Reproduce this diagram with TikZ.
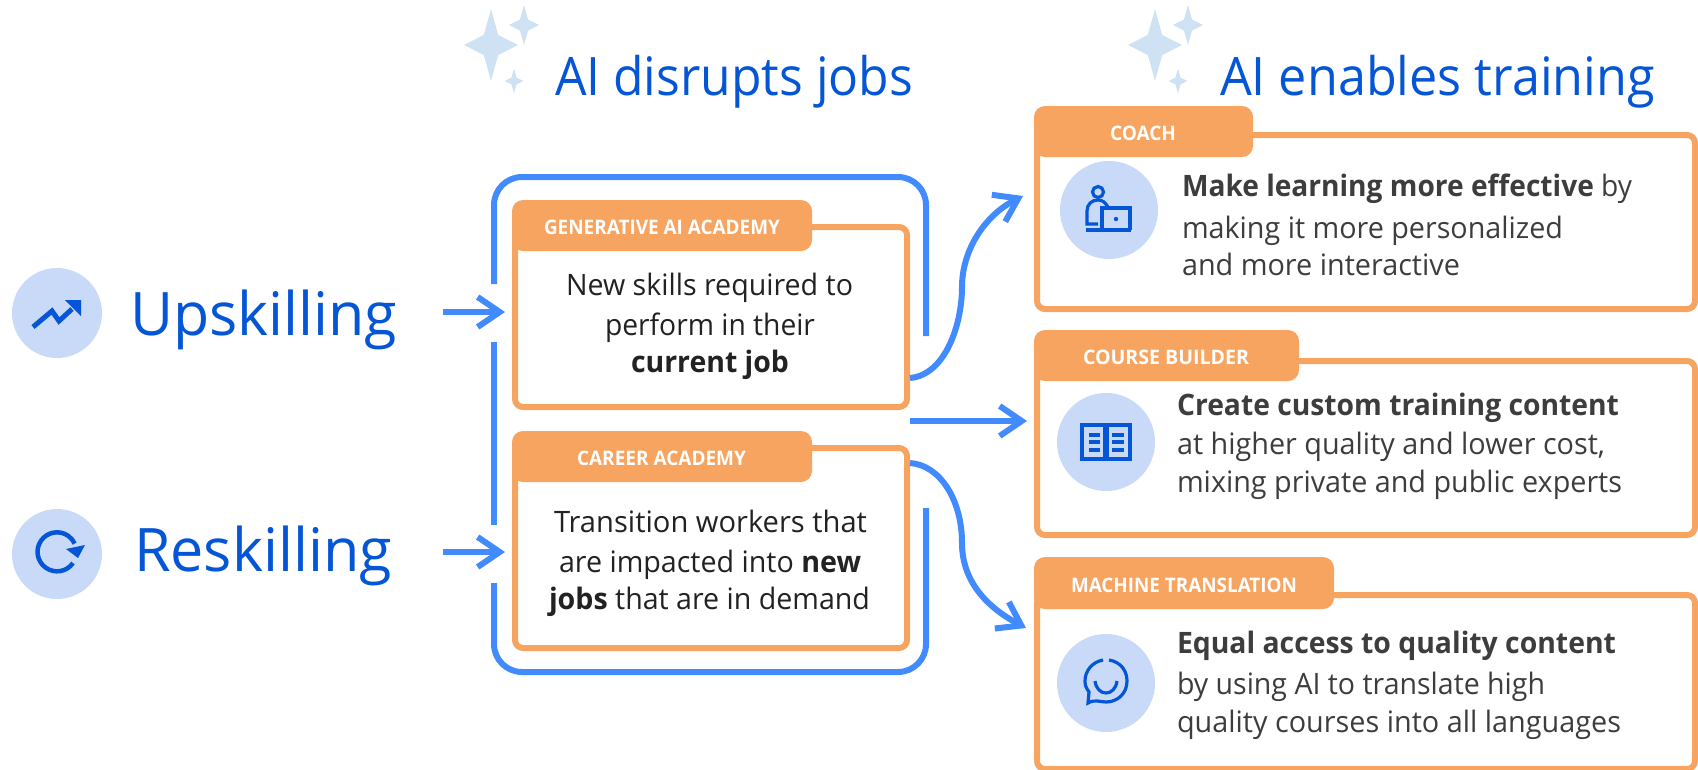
\documentclass[tikz,border=0pt]{standalone}
\usepackage{fontspec}
\usepackage{graphicx}
\usetikzlibrary{arrows.meta}
\setmainfont{Open Sans}
\definecolor{orangeC}{HTML}{F6A45F}
\definecolor{blueC}{HTML}{418BFF}
\definecolor{deepC}{HTML}{0556D6}
\definecolor{paleC}{HTML}{C9DAF8}
\definecolor{starC}{HTML}{CFE2F3}
\definecolor{inkA}{HTML}{222222}
\definecolor{inkB}{HTML}{3D3D3D}
\newcommand\fitt[3]{\resizebox{#2pt}{\height}{\fontsize{#1}{#1}\selectfont #3}}
\newcommand\sparkle[3]{\fill[starC] (#1,#2) ++(0,-1*#3) -- ++(0.2*#3,0.72*#3) -- ++(0.55*#3,0.28*#3) -- ++(-0.55*#3,0.28*#3) -- ++(-0.2*#3,0.72*#3) -- ++(-0.2*#3,-0.72*#3) -- ++(-0.55*#3,-0.28*#3) -- ++(0.55*#3,-0.28*#3) -- cycle;}
\tikzset{
  txt/.style={inner sep=0pt,outer sep=0pt,anchor=base west},
  head/.style={txt,text=deepC},
  tabtxt/.style={txt,text=white,font=\bfseries},
  innerbox/.style={draw=orangeC,line width=6pt,rounded corners=8pt,fill=white,inner sep=0pt,outer sep=0pt,anchor=north west},
  tabbox/.style={fill=orangeC,rounded corners=11pt,inner sep=0pt,outer sep=0pt,anchor=north west},
  disc/.style={circle,fill=paleC,inner sep=0pt,outer sep=0pt,minimum size=98pt},
  frameline/.style={draw=blueC,line width=6pt,rounded corners=28pt},
  flow/.style={draw=blueC,line width=6pt,-{Straight Barb[length=22pt,width=30pt,line width=6pt]}},
  ico/.style={draw=deepC,line width=3.2pt,line join=miter},
}
\begin{document}
\begin{tikzpicture}[x=1pt,y=-1pt]
\useasboundingbox (0,0) rectangle (1698,769);
% sparkles
\sparkle{491}{45}{36}
\sparkle{524}{25}{20}
\sparkle{514}{81}{12.5}
\sparkle{1155}{45}{36}
\sparkle{1188}{25}{20}
\sparkle{1178}{81}{12.5}
% headings
\node[head] (hA) at (555,95) {\fitt{53}{358}{AI disrupts jobs}};
\node[head] (hB) at (1220,95) {\fitt{53}{435}{AI enables training}};
% left
\node[disc,minimum size=90pt] (dU) at (57,313) {};
\node[disc,minimum size=90pt] (dR) at (57,554) {};
\node[head] (up) at (130,335) {\fitt{60}{267}{Upskilling}};
\node[head] (re) at (134,571) {\fitt{60}{258}{Reskilling}};
\draw[deepC,line width=5pt] (33,327) -- (52,311) -- (59,321) -- (72,309);
\fill[deepC] (65,300) -- (81,300) -- (81,316) -- cycle;
\draw[deepC,line width=4.5pt] (73,563) arc[start angle=35,end angle=335,radius=19.5];
\fill[deepC] (66,549) -- (78,558) -- (85,545) -- cycle;
% frame
\draw[frameline] (494,284) -- (494,177) -- (926,177) -- (926,336);
\draw[frameline] (926,508) -- (926,672) -- (494,672) -- (494,583);
\draw[blueC,line width=6pt] (494,342) -- (494,525);
% inner boxes
\node[innerbox,minimum width=392pt,minimum height=180pt] (b1) at (515,227) {};
\node[innerbox,minimum width=392pt,minimum height=200pt] (b2) at (515,448) {};
\node[tabbox,minimum width=300pt,minimum height=51pt] (t1) at (512,200) {};
\node[tabbox,minimum width=300pt,minimum height=51pt] (t2) at (512,431) {};
\node[tabtxt] (t1x) at (544,234) {\fitt{20}{236}{GENERATIVE AI ACADEMY}};
\node[tabtxt] (t2x) at (577,465) {\fitt{20}{169}{CAREER ACADEMY}};
\node[txt,text=inkA] (b1a) at (566,295) {\fitt{29.5}{287}{New skills required to}};
\node[txt,text=inkA] (b1b) at (605,335) {\fitt{29.5}{210}{perform in their}};
\node[txt,text=inkA] (b1c) at (631,372) {\fitt{29.5}{158}{\bfseries current job}};
\node[txt,text=inkA] (b2a) at (554,532) {\fitt{29.5}{313}{Transition workers that}};
\node[txt,text=inkA] (b2b) at (559,572) {\fitt{29.5}{302}{are impacted into \bfseries new}};
\node[txt,text=inkA] (b2c) at (549,609) {\fitt{29.5}{321}{{\bfseries jobs} that are in demand}};
% right boxes
\node[innerbox,minimum width=658pt,minimum height=174pt] (r1) at (1037,135) {};
\node[innerbox,minimum width=658pt,minimum height=174pt] (r2) at (1037,361) {};
\node[innerbox,minimum width=658pt,minimum height=174pt] (r3) at (1037,595) {};
\node[tabbox,minimum width=219pt,minimum height=51pt] (s1) at (1034,106) {};
\node[tabbox,minimum width=265pt,minimum height=51pt] (s2) at (1034,330) {};
\node[tabbox,minimum width=300pt,minimum height=52pt] (s3) at (1034,557) {};
\node[tabtxt] (s1x) at (1110,140) {\fitt{20}{66}{COACH}};
\node[tabtxt] (s2x) at (1083,364) {\fitt{20}{166}{COURSE BUILDER}};
\node[tabtxt] (s3x) at (1071,592) {\fitt{20}{226}{MACHINE TRANSLATION}};
\node[disc] (d1) at (1109,210) {};
\node[disc] (d2) at (1106,442) {};
\node[disc] (d3) at (1106,683) {};
\node[txt,text=inkB] (r1a) at (1182,196) {\fitt{29.5}{450}{{\bfseries Make learning more effective} by}};
\node[txt,text=inkB] (r1b) at (1182,238) {\fitt{29.5}{381}{making it more personalized}};
\node[txt,text=inkB] (r1c) at (1182,275) {\fitt{29.5}{278}{and more interactive}};
\node[txt,text=inkB] (r2a) at (1177,415) {\fitt{29.5}{442}{\bfseries Create custom training content}};
\node[txt,text=inkB] (r2b) at (1177,454) {\fitt{29.5}{428}{at higher quality and lower cost,}};
\node[txt,text=inkB] (r2c) at (1177,492) {\fitt{29.5}{445}{mixing private and public experts}};
\node[txt,text=inkB] (r3a) at (1177,653) {\fitt{29.5}{439}{\bfseries Equal access to quality content}};
\node[txt,text=inkB] (r3b) at (1177,694) {\fitt{29.5}{368}{by using AI to translate high}};
\node[txt,text=inkB] (r3c) at (1177,732) {\fitt{29.5}{444}{quality courses into all languages}};
% coach icon
\draw[ico] (1098,192) circle[radius=5.5];
\draw[ico] (1108,207) .. controls (1105,202) and (1102,200) .. (1098,200) .. controls (1092,200) and (1087,204) .. (1087,211) -- (1087,224) -- (1098,224);
\draw[ico] (1102,230) -- (1102,208) -- (1130,208) -- (1130,230);
\draw[ico] (1086,230) -- (1131,230);
\fill[deepC] (1116,219) circle[radius=2.2];
% book icon
\draw[ico] (1082,425) rectangle (1105,459);
\draw[ico] (1107,425) rectangle (1130,459);
\draw[ico] (1089,435) -- (1100,435) (1089,442) -- (1100,442) (1089,450) -- (1100,450);
\draw[ico] (1112,435) -- (1124,435) (1112,442) -- (1124,442) (1112,450) -- (1124,450);
% chat icon
\draw[ico] (1109,660) .. controls (1121,662) and (1127,671) .. (1127,681) .. controls (1127,694) and (1117,702) .. (1106,702) .. controls (1100,702) and (1095,699) .. (1088,703) -- (1089,692) .. controls (1086,688) and (1085,685) .. (1085,681) .. controls (1085,671) and (1092,662) .. (1103,660);
\draw[ico] (1095,681) .. controls (1096,689) and (1101,693) .. (1106,693) .. controls (1111,693) and (1116,689) .. (1117,681);
% connectors
\coordinate (aU) at (505,312);
\coordinate (aR) at (505,552);
\coordinate (fromU) at (443,312);
\coordinate (fromR) at (443,552);
\coordinate (o1) at (910,378);
\coordinate (o2) at (910,421);
\coordinate (o3) at (910,463);
\coordinate (e1) at (1023,196);
\coordinate (e2) at (1027,421);
\coordinate (e3) at (1026,628);
\draw[flow] (fromU) -- (aU);
\draw[flow] (fromR) -- (aR);
\draw[flow] (o1) .. controls (945,375) and (962,325) .. (962,287) .. controls (962,250) and (985,215) .. (e1);
\draw[flow] (o2) -- (e2);
\draw[flow] (o3) .. controls (940,465) and (962,500) .. (962,543) .. controls (962,585) and (992,610) .. (e3);
\end{tikzpicture}
\end{document}
